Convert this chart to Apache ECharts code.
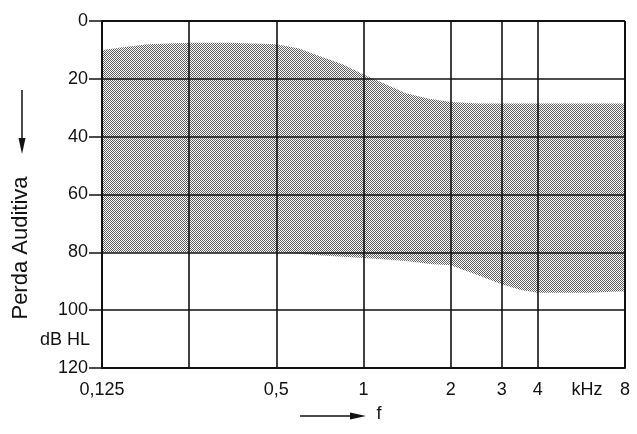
<!DOCTYPE html>
<html>
<head>
<meta charset="utf-8">
<script src="https://cdn.jsdelivr.net/npm/echarts@6/dist/echarts.min.js"></script>
<style>
html,body{margin:0;padding:0;background:#fff;}
#chart{width:637px;height:434px;}
</style>
</head>
<body>
<div id="chart"></div>
<script>
// Frequencies (kHz) where the band boundaries were read
var freqs = [0.125, 0.15, 0.18, 0.25, 0.35, 0.5, 0.6, 0.7, 0.85, 1, 1.2, 1.4, 1.7, 2, 2.5, 3, 3.5, 4, 6, 8];
// Upper boundary of the shaded band (dB HL)
var upperDb = [10, 9, 8, 7.5, 7.5, 8, 9.5, 12, 15, 18.5, 22, 25, 27, 28, 28.5, 28.5, 28.5, 28.5, 28.5, 28.5];
// Lower boundary of the shaded band (dB HL)
var lowerDb = [80, 80, 80, 80, 80, 80, 80.5, 81, 81.5, 82, 82.5, 83, 84, 84.5, 88, 91, 93, 94, 94, 93.5];
// Vertical grid line frequencies
var gridFreqs = [0.125, 0.25, 0.5, 1, 2, 3, 4, 8];
// X tick labels
var xLabelValues = [0.125, 0.5, 1, 2, 3, 4, 8];
var xLabelTexts = ['0,125', '0,5', '1', '2', '3', '4', '8'];
// Y ticks
var yMin = 0, yMax = 120, yStep = 20;

var FONT = '"Liberation Sans", Arial, sans-serif';

// stipple texture
var pc = document.createElement('canvas');
pc.width = 4; pc.height = 4;
var pctx = pc.getContext('2d');
pctx.fillStyle = '#ffffff';
pctx.fillRect(0, 0, 4, 4);
pctx.fillStyle = '#5e5e5e';
for (var i = 0; i < 4; i++) for (var j = 0; j < 4; j++) {
  if ((i + j) % 2 === 0) pctx.fillRect(i, j, 1, 1);
}

var bandData = freqs.map(function (f, k) { return [f, upperDb[k], lowerDb[k]]; });

var labelMap = {};
xLabelValues.forEach(function (v, k) { labelMap[v] = xLabelTexts[k]; });

var chart = echarts.init(document.getElementById('chart'), null, {renderer: 'canvas'});
chart.setOption({
  animation: false,
  grid: {left: 102, right: 12, top: 21, bottom: 66, containLabel: false},
  xAxis: {
    type: 'log', logBase: 2, min: 0.125, max: 8, z: 10,
    axisLine: {show: true, onZero: false, lineStyle: {color: '#111', width: 2}},
    axisTick: {show: false, customValues: gridFreqs},
    splitLine: {show: true, lineStyle: {color: '#111', width: 1.6}},
    axisLabel: {
      customValues: xLabelValues,
      margin: 13, fontSize: 18, color: '#111', fontFamily: FONT,
      formatter: function (v) { return labelMap[v] !== undefined ? labelMap[v] : ''; }
    }
  },
  yAxis: {
    type: 'value', inverse: true, min: yMin, max: yMax, interval: yStep, z: 10,
    axisLine: {show: true, lineStyle: {color: '#111', width: 2}},
    axisTick: {show: true, length: 13, inside: false, lineStyle: {color: '#111', width: 1.5}},
    splitLine: {show: true, lineStyle: {color: '#111', width: 1.6}},
    axisLabel: {margin: 14, fontSize: 18, color: '#111', fontFamily: FONT}
  },
  series: [
    {
      type: 'custom', z: 1,
      data: bandData,
      encode: {x: 0, y: [1, 2]},
      renderItem: function (params, api) {
        if (params.dataIndex !== 0) return null;
        var pts = [];
        for (var k = 0; k < freqs.length; k++) pts.push(api.coord([freqs[k], upperDb[k]]));
        for (var k2 = freqs.length - 1; k2 >= 0; k2--) pts.push(api.coord([freqs[k2], lowerDb[k2]]));
        return {
          type: 'polygon',
          shape: {points: pts},
          style: {fill: {image: pc, repeat: 'repeat'}, stroke: null}
        };
      }
    }
  ],
  graphic: [
    {type: 'line', shape: {x1: 625, y1: 21, x2: 625, y2: 368}, style: {stroke: '#111', lineWidth: 2}, z: 20},
    {type: 'line', shape: {x1: 102, y1: 21, x2: 625, y2: 21}, style: {stroke: '#111', lineWidth: 2}, z: 20},
    {type: 'text', x: 90, y: 340, style: {text: 'dB HL', font: '18px ' + FONT, fill: '#111', textAlign: 'right', textVerticalAlign: 'middle'}},
    {type: 'text', x: 587, y: 390, style: {text: 'kHz', font: '18px ' + FONT, fill: '#111', textAlign: 'center', textVerticalAlign: 'middle'}},
    {type: 'text', x: 21, y: 248, rotation: Math.PI / 2, style: {text: 'Perda Auditiva', font: '22px ' + FONT, fill: '#111', textAlign: 'center', textVerticalAlign: 'middle'}},
    {type: 'line', shape: {x1: 22, y1: 90, x2: 22, y2: 140}, style: {stroke: '#111', lineWidth: 1.5}},
    {type: 'polygon', shape: {points: [[18.5, 138], [25.5, 138], [22, 154]]}, style: {fill: '#111'}},
    {type: 'line', shape: {x1: 300, y1: 416, x2: 352, y2: 416}, style: {stroke: '#111', lineWidth: 1.5}},
    {type: 'polygon', shape: {points: [[350, 412.5], [350, 419.5], [366, 416]]}, style: {fill: '#111'}},
    {type: 'text', x: 379, y: 414, style: {text: 'f', font: '18px ' + FONT, fill: '#111', textAlign: 'center', textVerticalAlign: 'middle'}}
  ]
});
</script>
</body>
</html>
